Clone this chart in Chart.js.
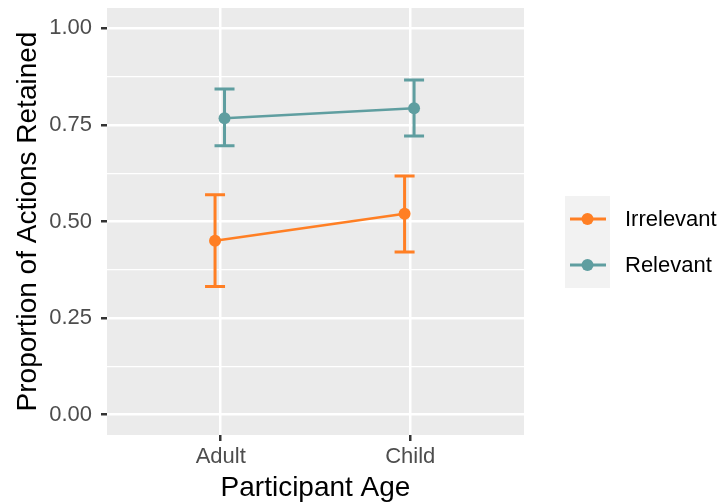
<!DOCTYPE html>
<html><head><meta charset="utf-8">
<script src="https://cdn.jsdelivr.net/npm/chart.js@4"></script>
<style>html,body{margin:0;padding:0;background:#fff}#w{width:725px;height:504px}</style>
</head><body><div id="w"><canvas id="c" width="725" height="504"></canvas></div>
<script>
const categories = ["Adult", "Child"];
const seriesNames = ["Irrelevant", "Relevant"];
const irrelevantMean = [0.45, 0.52];
const irrelevantLow  = [0.332, 0.421];
const irrelevantHigh = [0.569, 0.618];
const relevantMean = [0.767, 0.793];
const relevantLow  = [0.696, 0.721];
const relevantHigh = [0.843, 0.866];
const yTicks = [0, 0.25, 0.5, 0.75, 1.0];
const yMinor = [0.125, 0.375, 0.625, 0.875];
const colors = ["#FF7F24", "#5F9EA0"];
const dodge = [-0.03, 0.02];
const FONT = '"Liberation Sans", Arial, sans-serif';

function mk(means, lows, highs, k){
  return means.map((m,i)=>({x:i+1+dodge[k], y:m, lo:lows[i], hi:highs[i]}));
}
const datasets = [
  {label: seriesNames[0], data: mk(irrelevantMean, irrelevantLow, irrelevantHigh, 0), borderColor: colors[0], backgroundColor: colors[0]},
  {label: seriesNames[1], data: mk(relevantMean, relevantLow, relevantHigh, 1), borderColor: colors[1], backgroundColor: colors[1]}
].map(d=>Object.assign(d,{showLine:true, borderWidth:2.6, pointRadius:6, pointHoverRadius:6, pointBorderWidth:0}));

const panelBg = {
  id:'panelBg',
  beforeDraw(chart){
    const {ctx, chartArea:a} = chart;
    ctx.save(); ctx.fillStyle='#EBEBEB'; ctx.fillRect(a.left,a.top,a.right-a.left,a.bottom-a.top); ctx.restore();
  }
};
const errBars = {
  id:'errBars',
  beforeDatasetsDraw(chart){
    const {ctx, scales:{x,y}} = chart;
    ctx.save();
    chart.data.datasets.forEach(ds=>{
      ctx.strokeStyle = ds.borderColor; ctx.lineWidth = 3;
      ds.data.forEach(p=>{
        const px=x.getPixelForValue(p.x), y1=y.getPixelForValue(p.lo), y2=y.getPixelForValue(p.hi);
        ctx.beginPath();
        ctx.moveTo(px,y1); ctx.lineTo(px,y2);
        ctx.moveTo(px-10,y1); ctx.lineTo(px+10,y1);
        ctx.moveTo(px-10,y2); ctx.lineTo(px+10,y2);
        ctx.stroke();
      });
    });
    ctx.restore();
  }
};
const legendPlug = {
  id:'legendPlug',
  afterDraw(chart){
    const ctx = chart.ctx;
    ctx.save();
    const bx=565, by=196, bw=45, kh=46;
    ctx.fillStyle='#F2F2F2'; ctx.fillRect(bx,by,bw,kh*2);
    seriesNames.forEach((n,i)=>{
      const cy = by + kh*i + kh/2;
      ctx.strokeStyle=colors[i]; ctx.lineWidth=2.8;
      ctx.beginPath(); ctx.moveTo(bx+5,cy); ctx.lineTo(bx+bw-4,cy); ctx.stroke();
      ctx.fillStyle=colors[i]; ctx.beginPath(); ctx.arc(bx+bw/2,cy,6,0,Math.PI*2); ctx.fill();
      ctx.fillStyle='#000'; ctx.font='22px ' + FONT;
      ctx.textBaseline='middle'; ctx.textAlign='left';
      ctx.fillText(n, 625, cy+1);
    });
    ctx.restore();
  }
};

new Chart(document.getElementById('c'), {
  type:'scatter',
  data:{datasets},
  plugins:[panelBg, errBars, legendPlug],
  options:{
    responsive:false, animation:false, devicePixelRatio:1,
    layout:{padding:{left:0,right:201,top:8,bottom:0}},
    plugins:{legend:{display:false}, tooltip:{enabled:false}},
    scales:{
      x:{
        type:'linear', min:0.4, max:2.6,
        afterBuildTicks(s){ s.ticks = categories.map((c,i)=>({value:i+1})); },
        afterFit(s){ s.height = 69; s.paddingLeft = 0; s.paddingRight = 0; },
        border:{display:false},
        grid:{color:'#FFFFFF', lineWidth:2.5, tickColor:'#333333', tickLength:6, drawOnChartArea:true},
        ticks:{callback:(v)=>categories[Math.round(v)-1], color:'#4D4D4D', font:{family:FONT, size:22}, padding:3, maxRotation:0},
        title:{display:true, text:'Participant Age', color:'#000', font:{family:FONT, size:28}, padding:{top:0,bottom:-1}}
      },
      y:{
        type:'linear', min:-0.0525, max:1.0525,
        afterBuildTicks(s){ s.ticks = yTicks.concat(yMinor).sort((a,b)=>a-b).map(v=>({value:v})); },
        afterFit(s){ s.width = 107; s.paddingTop = 0; s.paddingBottom = 0; },
        border:{display:false},
        grid:{
          color:'#FFFFFF',
          lineWidth:(c)=> yTicks.includes(c.tick.value) ? 2.5 : 1.2,
          tickColor:(c)=> yTicks.includes(c.tick.value) ? '#333333' : 'rgba(0,0,0,0)',
          tickLength:6
        },
        ticks:{callback:(v)=> yTicks.includes(v) ? v.toFixed(2) : '', color:'#4D4D4D', font:{family:FONT, size:22}, padding:9},
        title:{display:true, text:'Proportion of Actions Retained', color:'#000', font:{family:FONT, size:28}, padding:{top:11,bottom:0}}
      }
    }
  }
});
</script></body></html>
